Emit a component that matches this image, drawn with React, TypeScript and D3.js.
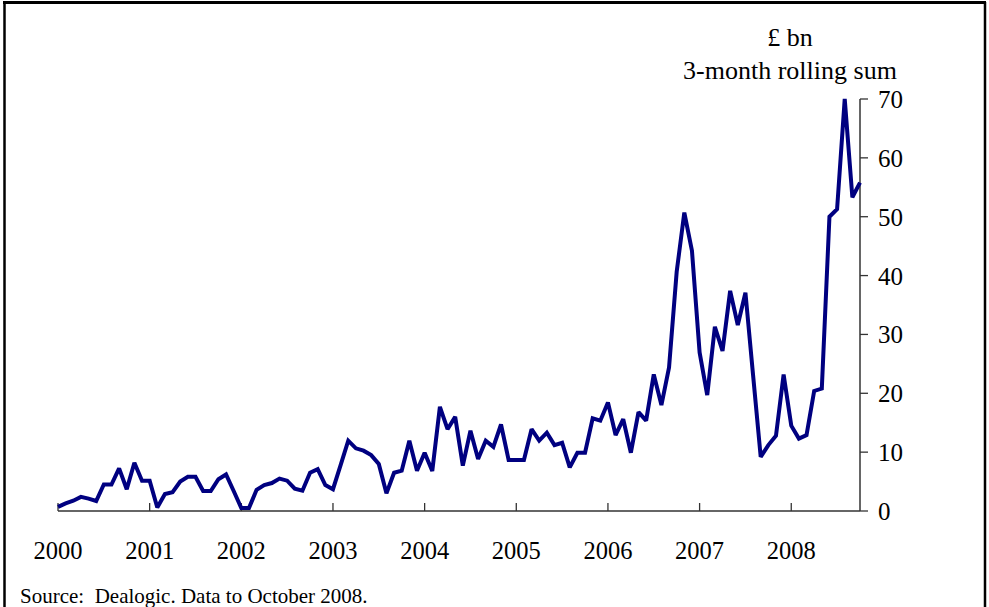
import React from "react";
import * as d3 from "d3";

const years = ["2000", "2001", "2002", "2003", "2004", "2005", "2006", "2007", "2008"];
const yTicks = [0, 10, 20, 30, 40, 50, 60, 70];

const v2000 = [0.7, 1.3, 1.75, 2.4, 2.1, 1.7, 4.5, 4.5, 7.25, 3.7, 8.2, 5.15];
const v2001 = [5.15, 0.6, 2.9, 3.2, 5.0, 5.8, 5.8, 3.4, 3.4, 5.4, 6.2, 3.4];
const v2002 = [0.5, 0.5, 3.6, 4.4, 4.75, 5.5, 5.15, 3.8, 3.45, 6.5, 7.1, 4.4];
const v2003 = [3.7, 7.8, 11.95, 10.65, 10.25, 9.5, 8.0, 3.0, 6.5, 6.85, 11.95, 6.85];
const v2004 = [9.9, 6.8, 17.7, 13.9, 16.0, 7.7, 13.65, 8.85, 11.95, 10.9, 14.7, 8.65];
const v2005 = [8.65, 8.65, 13.9, 11.95, 13.3, 11.2, 11.6, 7.4, 9.9, 9.9, 15.75, 15.35];
const v2006 = [18.45, 12.9, 15.6, 9.9, 16.8, 15.35, 23.2, 18.0, 24.4, 40.65, 50.7, 44.2];
const v2007 = [26.95, 19.7, 31.3, 27.2, 37.4, 31.6, 37.1, 23.1, 9.2, 11.2, 12.8, 23.2];
const v2008 = [14.5, 12.3, 12.9, 20.4, 20.8, 50.0, 51.3, 70, 53.3, 55.8];

const values = [...v2000, ...v2001, ...v2002, ...v2003, ...v2004, ...v2005, ...v2006, ...v2007, ...v2008];

const unitLabel = "£ bn";
const subLabel = "3-month rolling sum";
const sourceText = "Source:  Dealogic. Data to October 2008.";

const W = 989;
const H = 607;
const font = "'Liberation Serif', 'Times New Roman', serif";

export default function App() {
  const x = d3.scaleLinear().domain([0, 105]).range([58, 860]);
  const y = d3.scaleLinear().domain([0, 70]).range([511, 99]);
  const line = d3
    .line<number>()
    .x((_, i) => x(i))
    .y((d) => y(d))
    .curve(d3.curveLinear);

  const axisColor = "#333";

  return (
    <div style={{ position: "fixed", left: 0, top: 0, width: W, height: H, background: "#fff" }}>
      <svg width={W} height={H} style={{ display: "block" }}>
        <rect x={0} y={0} width={W} height={H} fill="#fff" />
        {/* frame */}
        <line x1={3} x2={986} y1={2.5} y2={2.5} stroke="#000" strokeWidth={3} />
        <line x1={4.5} x2={4.5} y1={2} y2={H} stroke="#000" strokeWidth={2.5} />
        <line x1={985} x2={985} y1={2} y2={H} stroke="#000" strokeWidth={2.5} />

        {/* x axis */}
        <line x1={x(0)} x2={x(105)} y1={y(0)} y2={y(0)} stroke={axisColor} strokeWidth={1.5} />
        {years.map((yr, i) => (
          <g key={yr}>
            <line x1={x(i * 12)} x2={x(i * 12)} y1={y(0)} y2={y(0) - 8} stroke={axisColor} strokeWidth={1.3} />
            <text x={x(i * 12)} y={559} textAnchor="middle" fontFamily={font} fontSize={24.5} fill="#000">
              {yr}
            </text>
          </g>
        ))}

        {/* y axis (right) */}
        <line x1={x(105)} x2={x(105)} y1={y(70)} y2={y(0)} stroke={axisColor} strokeWidth={1.5} />
        {yTicks.map((t) => (
          <g key={t}>
            <line x1={x(105)} x2={x(105) + 8} y1={y(t)} y2={y(t)} stroke={axisColor} strokeWidth={1.3} />
            <text x={878} y={y(t) + 9} textAnchor="start" fontFamily={font} fontSize={25} fill="#000">
              {t}
            </text>
          </g>
        ))}

        <text x={790} y={46} textAnchor="middle" fontFamily={font} fontSize={26} fill="#000">
          {unitLabel}
        </text>
        <text x={790} y={79} textAnchor="middle" fontFamily={font} fontSize={26} fill="#000">
          {subLabel}
        </text>

        <path d={line(values) || ""} fill="none" stroke="#000080" strokeWidth={4} strokeLinejoin="miter" strokeMiterlimit={2} />

        <text x={20} y={603} fontFamily={font} fontSize={21} fill="#000" style={{ whiteSpace: "pre" }} xmlSpace="preserve">
          {sourceText}
        </text>
      </svg>
    </div>
  );
}
